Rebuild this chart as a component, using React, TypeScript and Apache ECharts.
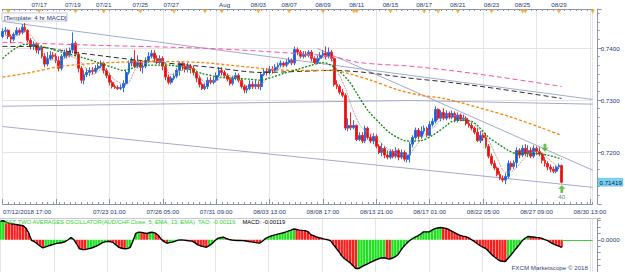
import React, { useEffect, useRef } from 'react';
import * as echarts from 'echarts';

// ---- 4h AUD/CHF candles (index = bar number from 07/12/2018 17:00) ----
const opens = [
  0.7422,0.7432,0.7434,0.7422,0.7417,0.7426,0.7434,0.7430,0.7440,0.7434,
  0.7415,0.7403,0.7407,0.7396,0.7401,0.7384,0.7369,0.7380,0.7386,0.7384,
  0.7376,0.7361,0.7384,0.7392,0.7386,0.7396,0.7409,0.7388,0.7361,0.7338,
  0.7349,0.7353,0.7357,0.7355,0.7361,0.7365,0.7371,0.7357,0.7347,0.7334,
  0.7326,0.7324,0.7322,0.7324,0.7332,0.7353,0.7371,0.7376,0.7365,0.7372,
  0.7363,0.7365,0.7376,0.7384,0.7390,0.7380,0.7372,0.7380,0.7365,0.7344,
  0.7334,0.7342,0.7346,0.7357,0.7371,0.7365,0.7359,0.7365,0.7361,0.7353,
  0.7342,0.7330,0.7322,0.7326,0.7338,0.7334,0.7338,0.7347,0.7357,0.7353,
  0.7347,0.7340,0.7332,0.7342,0.7347,0.7338,0.7326,0.7319,0.7322,0.7330,
  0.7326,0.7330,0.7326,0.7349,0.7355,0.7353,0.7359,0.7357,0.7363,0.7367,
  0.7371,0.7367,0.7372,0.7376,0.7371,0.7397,0.7392,0.7384,0.7388,0.7386,
  0.7392,0.7380,0.7372,0.7380,0.7386,0.7390,0.7384,0.7392,0.7380,0.7330,
  0.7326,0.7315,0.7309,0.7246,0.7251,0.7247,0.7251,0.7224,0.7232,0.7221,
  0.7246,0.7228,0.7221,0.7230,0.7211,0.7199,0.7207,0.7194,0.7190,0.7201,
  0.7192,0.7203,0.7190,0.7199,0.7186,0.7194,0.7215,0.7228,0.7242,0.7230,
  0.7240,0.7246,0.7232,0.7253,0.7259,0.7282,0.7265,0.7276,0.7265,0.7274,
  0.7267,0.7274,0.7261,0.7271,0.7263,0.7265,0.7255,0.7251,0.7246,0.7238,
  0.7222,0.7232,0.7228,0.7211,0.7192,0.7178,0.7169,0.7157,0.7149,0.7146,
  0.7153,0.7178,0.7172,0.7180,0.7203,0.7194,0.7207,0.7197,0.7203,0.7192,
  0.7207,0.7201,0.7196,0.7184,0.7178,0.7171,0.7167,0.7163,0.7171,0.7174,
];
const closes = [
  0.7432,0.7434,0.7422,0.7417,0.7426,0.7434,0.7430,0.7440,0.7434,0.7415,
  0.7403,0.7407,0.7396,0.7401,0.7384,0.7369,0.7380,0.7386,0.7384,0.7376,
  0.7361,0.7384,0.7392,0.7386,0.7396,0.7409,0.7388,0.7361,0.7338,0.7349,
  0.7353,0.7357,0.7355,0.7361,0.7365,0.7371,0.7357,0.7347,0.7334,0.7326,
  0.7324,0.7322,0.7324,0.7332,0.7353,0.7371,0.7376,0.7365,0.7372,0.7363,
  0.7365,0.7376,0.7384,0.7390,0.7380,0.7372,0.7380,0.7365,0.7344,0.7334,
  0.7342,0.7346,0.7357,0.7371,0.7365,0.7359,0.7365,0.7361,0.7353,0.7342,
  0.7330,0.7322,0.7326,0.7338,0.7334,0.7338,0.7347,0.7357,0.7353,0.7347,
  0.7340,0.7332,0.7342,0.7347,0.7338,0.7326,0.7319,0.7322,0.7330,0.7326,
  0.7330,0.7326,0.7349,0.7355,0.7353,0.7359,0.7357,0.7363,0.7367,0.7371,
  0.7367,0.7372,0.7376,0.7371,0.7397,0.7392,0.7384,0.7388,0.7386,0.7392,
  0.7380,0.7372,0.7380,0.7386,0.7390,0.7384,0.7392,0.7380,0.7330,0.7326,
  0.7315,0.7309,0.7246,0.7251,0.7247,0.7251,0.7224,0.7232,0.7221,0.7246,
  0.7228,0.7221,0.7230,0.7211,0.7199,0.7207,0.7194,0.7190,0.7201,0.7192,
  0.7203,0.7190,0.7199,0.7186,0.7194,0.7215,0.7228,0.7242,0.7230,0.7240,
  0.7246,0.7232,0.7253,0.7259,0.7282,0.7265,0.7276,0.7265,0.7274,0.7267,
  0.7274,0.7261,0.7271,0.7263,0.7265,0.7255,0.7251,0.7246,0.7238,0.7222,
  0.7232,0.7228,0.7211,0.7192,0.7178,0.7169,0.7157,0.7149,0.7146,0.7153,
  0.7178,0.7172,0.7180,0.7203,0.7194,0.7207,0.7197,0.7203,0.7192,0.7207,
  0.7201,0.7196,0.7184,0.7178,0.7171,0.7167,0.7163,0.7171,0.7174,0.71419,
];
const highs = [
  0.7438,0.7440,0.7436,0.7426,0.7430,0.7440,0.7438,0.7446,0.7448,0.7436,
  0.7419,0.7413,0.7411,0.7407,0.7405,0.7390,0.7392,0.7394,0.7392,0.7390,
  0.7384,0.7388,0.7397,0.7399,0.7401,0.7430,0.7413,0.7392,0.7365,0.7357,
  0.7361,0.7363,0.7363,0.7367,0.7371,0.7376,0.7374,0.7361,0.7351,0.7338,
  0.7330,0.7328,0.7330,0.7338,0.7357,0.7376,0.7382,0.7396,0.7386,0.7376,
  0.7372,0.7382,0.7392,0.7396,0.7396,0.7386,0.7386,0.7384,0.7369,0.7349,
  0.7346,0.7351,0.7361,0.7374,0.7374,0.7371,0.7371,0.7369,0.7365,0.7357,
  0.7346,0.7334,0.7332,0.7344,0.7344,0.7344,0.7353,0.7363,0.7363,0.7357,
  0.7351,0.7344,0.7347,0.7353,0.7351,0.7342,0.7330,0.7328,0.7338,0.7336,
  0.7338,0.7336,0.7353,0.7361,0.7361,0.7365,0.7365,0.7369,0.7372,0.7376,
  0.7374,0.7378,0.7382,0.7380,0.7403,0.7401,0.7396,0.7394,0.7394,0.7396,
  0.7396,0.7384,0.7386,0.7392,0.7396,0.7403,0.7401,0.7396,0.7382,0.7338,
  0.7330,0.7321,0.7313,0.7265,0.7276,0.7261,0.7253,0.7238,0.7238,0.7251,
  0.7249,0.7234,0.7236,0.7234,0.7215,0.7217,0.7211,0.7203,0.7205,0.7205,
  0.7209,0.7207,0.7205,0.7203,0.7199,0.7219,0.7232,0.7247,0.7246,0.7249,
  0.7251,0.7249,0.7259,0.7265,0.7288,0.7284,0.7280,0.7284,0.7280,0.7278,
  0.7280,0.7278,0.7276,0.7274,0.7272,0.7269,0.7261,0.7257,0.7249,0.7246,
  0.7240,0.7236,0.7236,0.7215,0.7197,0.7184,0.7172,0.7163,0.7155,0.7159,
  0.7184,0.7182,0.7184,0.7209,0.7207,0.7213,0.7215,0.7213,0.7209,0.7213,
  0.7211,0.7209,0.7199,0.7190,0.7182,0.7176,0.7172,0.7174,0.7178,0.7176,
];
const lows = [
  0.7419,0.7426,0.7417,0.7409,0.7413,0.7424,0.7424,0.7426,0.7430,0.7411,
  0.7397,0.7396,0.7390,0.7388,0.7380,0.7363,0.7365,0.7376,0.7378,0.7371,
  0.7355,0.7357,0.7380,0.7380,0.7382,0.7390,0.7384,0.7353,0.7332,0.7330,
  0.7344,0.7346,0.7349,0.7351,0.7357,0.7361,0.7351,0.7342,0.7328,0.7322,
  0.7321,0.7319,0.7319,0.7315,0.7328,0.7349,0.7365,0.7361,0.7361,0.7355,
  0.7351,0.7361,0.7371,0.7380,0.7374,0.7369,0.7369,0.7357,0.7338,0.7330,
  0.7330,0.7338,0.7342,0.7347,0.7357,0.7353,0.7353,0.7351,0.7347,0.7334,
  0.7324,0.7319,0.7319,0.7321,0.7330,0.7330,0.7334,0.7344,0.7347,0.7342,
  0.7336,0.7328,0.7328,0.7338,0.7334,0.7322,0.7313,0.7313,0.7319,0.7321,
  0.7321,0.7321,0.7319,0.7346,0.7347,0.7349,0.7351,0.7353,0.7359,0.7363,
  0.7363,0.7363,0.7369,0.7367,0.7367,0.7386,0.7380,0.7380,0.7382,0.7382,
  0.7374,0.7369,0.7369,0.7376,0.7382,0.7378,0.7380,0.7374,0.7326,0.7321,
  0.7311,0.7305,0.7242,0.7240,0.7242,0.7244,0.7221,0.7221,0.7217,0.7217,
  0.7224,0.7217,0.7215,0.7207,0.7196,0.7192,0.7188,0.7186,0.7186,0.7188,
  0.7188,0.7184,0.7186,0.7182,0.7180,0.7180,0.7209,0.7224,0.7224,0.7226,
  0.7234,0.7228,0.7230,0.7249,0.7255,0.7261,0.7259,0.7261,0.7261,0.7263,
  0.7263,0.7257,0.7257,0.7259,0.7259,0.7251,0.7247,0.7242,0.7234,0.7219,
  0.7217,0.7221,0.7207,0.7188,0.7174,0.7165,0.7153,0.7146,0.7142,0.7138,
  0.7149,0.7165,0.7167,0.7169,0.7188,0.7190,0.7192,0.7190,0.7188,0.7188,
  0.7194,0.7192,0.7178,0.7172,0.7165,0.7161,0.7159,0.7159,0.7167,0.7140,
];

// ---- Two Averages Oscillator (MACD histogram) per bar ----
const macdValues = [
  0.00287,0.00295,0.00275,0.00258,0.00248,0.00240,0.00234,0.00226,0.00217,0.00183,
  0.00103,-0.00008,-0.00030,-0.00062,-0.00096,-0.00126,-0.00111,-0.00096,-0.00081,-0.00067,
  -0.00056,-0.00051,-0.00043,-0.00027,0.00000,0.00035,0.00003,-0.00064,-0.00139,-0.00150,
  -0.00153,-0.00142,-0.00131,-0.00116,-0.00099,-0.00075,-0.00049,-0.00032,-0.00024,-0.00030,
  -0.00045,-0.00080,-0.00118,-0.00132,-0.00140,-0.00138,-0.00118,-0.00016,0.00100,0.00118,
  0.00115,0.00105,0.00097,0.00113,0.00116,0.00102,0.00065,0.00010,-0.00029,-0.00053,
  -0.00045,-0.00037,-0.00022,-0.00005,-0.00003,-0.00006,-0.00011,-0.00018,-0.00021,-0.00048,
  -0.00078,-0.00096,-0.00107,-0.00116,-0.00091,-0.00059,-0.00016,0.00021,0.00032,0.00040,
  0.00022,0.00005,-0.00003,-0.00008,-0.00011,-0.00011,-0.00013,-0.00019,-0.00027,-0.00033,
  -0.00041,-0.00048,-0.00051,-0.00019,0.00021,0.00041,0.00059,0.00072,0.00084,0.00096,
  0.00105,0.00119,0.00134,0.00150,0.00167,0.00159,0.00150,0.00145,0.00142,0.00127,
  0.00080,0.00064,0.00046,0.00032,0.00021,0.00010,0.00000,-0.00014,-0.00072,-0.00127,
  -0.00183,-0.00250,-0.00295,-0.00326,-0.00358,-0.00403,-0.00446,-0.00446,-0.00422,-0.00398,
  -0.00377,-0.00355,-0.00334,-0.00314,-0.00296,-0.00283,-0.00279,-0.00291,-0.00301,-0.00283,
  -0.00263,-0.00228,-0.00159,-0.00103,-0.00056,-0.00016,0.00016,0.00041,0.00060,0.00089,
  0.00123,0.00123,0.00123,0.00148,0.00172,0.00183,0.00191,0.00185,0.00177,0.00159,
  0.00135,0.00110,0.00089,0.00068,0.00057,0.00048,0.00029,0.00003,-0.00024,-0.00057,
  -0.00089,-0.00113,-0.00132,-0.00175,-0.00223,-0.00259,-0.00294,-0.00325,-0.00334,-0.00337,
  -0.00287,-0.00237,-0.00180,-0.00127,-0.00073,-0.00014,0.00024,0.00051,0.00046,0.00043,
  0.00037,0.00033,0.00022,0.00003,-0.00014,-0.00040,-0.00064,-0.00083,-0.00099,-0.00119,
];

// ---- moving averages, read at sample bars [barIndex, price] ----
const pinkMA = [[0,0.7411],[35,0.7405],[74,0.7399],[103,0.7390],[117,0.7384],[127,0.7372],[145,0.7365],[159,0.7357],[177,0.7344],[199,0.7326]];
const blackMA = [[0,0.7403],[10,0.7403],[25,0.7392],[49,0.7376],[74,0.7363],[92,0.7353],[106,0.7355],[117,0.7357],[129,0.7353],[145,0.7342],[159,0.7334],[177,0.7321],[199,0.7303]];
const orangeMA = [[0,0.7344],[10,0.7353],[21,0.7365],[35,0.7371],[53,0.7374],[71,0.7372],[88,0.7363],[103,0.7357],[117,0.7357],[123,0.7351],[131,0.7338],[141,0.7319],[149,0.7309],[157,0.7303],[169,0.7286],[181,0.7267],[192,0.7246],[199,0.7232]];
const greenMA = [[0,0.7380],[8,0.7407],[14,0.7403],[21,0.7392],[28,0.7382],[34,0.7372],[39,0.7363],[43,0.7357],[46,0.7361],[49,0.7367],[53,0.7367],[59,0.7367],[65,0.7361],[71,0.7351],[77,0.7344],[82,0.7342],[88,0.7340],[92,0.7338],[96,0.7344],[100,0.7351],[105,0.7359],[110,0.7367],[114,0.7372],[118,0.7363],[123,0.7338],[126,0.7313],[130,0.7280],[135,0.7251],[138,0.7236],[143,0.7222],[145,0.7221],[149,0.7222],[153,0.7232],[158,0.7251],[160,0.7259],[164,0.7261],[167,0.7259],[169,0.7251],[173,0.7228],[176,0.7217],[180,0.7203],[183,0.7197],[187,0.7197],[190,0.7197],[194,0.7194],[198,0.7188],[199,0.7186]];
const rosyMA = [[0,0.7426],[4,0.7422],[8,0.7432],[12,0.7411],[16,0.7380],[20,0.7376],[24,0.7384],[28,0.7372],[32,0.7349],[36,0.7361],[40,0.7338],[44,0.7330],[48,0.7365],[52,0.7372],[56,0.7380],[60,0.7349],[64,0.7357],[68,0.7361],[72,0.7334],[76,0.7338],[80,0.7347],[84,0.7340],[88,0.7324],[92,0.7330],[96,0.7351],[100,0.7365],[104,0.7374],[108,0.7388],[112,0.7380],[116,0.7384],[119,0.7357],[122,0.7322],[125,0.7276],[128,0.7246],[132,0.7232],[136,0.7211],[140,0.7197],[144,0.7194],[147,0.7211],[150,0.7232],[154,0.7251],[158,0.7271],[162,0.7269],[166,0.7261],[170,0.7242],[173,0.7222],[176,0.7188],[179,0.7161],[182,0.7165],[185,0.7184],[188,0.7199],[191,0.7201],[194,0.7188],[197,0.7174],[199,0.7165]];

// ---- drawn trend lines [barIndex, price] ----
const upperChannel = [[0,0.7451],[210,0.7301]];
const levelLine = [[0,0.7288],[145,0.7299],[210,0.7292]];
const lowerChannel = [[0,0.7249],[210,0.7132]];
const downTrend = [[112,0.7399],[210,0.7165]];

// ---- signals ----
const signalIndex = [193, 199];
const signalPrice = [0.7208, 0.7129];
const signalDir = ['down', 'up'];
const signalText = ['', '40'];

// ---- axes ----
const SLOTS = 211;
const bottomTickIndex = [0, 38, 57, 76, 95, 114, 133, 152, 171, 190, 209];
const bottomTickText = ['07/12/2018 17:00','07/23 01:00','07/26 05:00','07/31 09:00','08/03 13:00','08/08 17:00','08/13 21:00','08/17 01:00','08/22 05:00','08/27 09:00','08/30 13:00'];
const topTickIndex = [13, 25, 36, 49, 60, 79, 91, 102, 114, 126, 138, 150, 162, 174, 185, 198];
const topTickText = ['07/17','07/19','07/21','07/25','07/27','Aug','08/03','08/07','08/09','08/11','08/15','08/17','08/21','08/23','08/25','08/29'];
const eventIndex = [2, 13, 26, 36, 49, 61, 72, 78, 91, 102, 114, 125, 126, 138, 150, 155, 162, 174, 185, 186, 198, 210];
const priceTicks = [0.72, 0.73, 0.74];
const lastPrice = 0.71419;
const macdTitle = 'EST TWO AVERAGES OSCILLATOR(AUD/CHF.Close, 5, EMA, 13, EMA)  TAO: -0.00119';
const macdLast = 'MACD: -0.00119';

const FONT = 'Liberation Sans, Arial, sans-serif';
const TXT = '#26387a';
const AXC = '#8e96aa';
const GRIDC = '#e4e4e4';

const cats = Array.from({ length: SLOTS }, (_, i) => String(i));
const bottomMap: Record<number, string> = {};
bottomTickIndex.forEach((k, j) => (bottomMap[k] = bottomTickText[j]));
const topMap: Record<number, string> = {};
topTickIndex.forEach((k, j) => (topMap[k] = topTickText[j]));

const downArrow = 'path://M3,0 L7,0 L7,5 L10,5 L5,10 L0,5 L3,5 Z';
const upArrow = 'path://M5,0 L10,5 L7,5 L7,10 L3,10 L3,5 L0,5 Z';

function buildOption(): any {
  const candleData = opens.map((o, i) => [o, closes[i], lows[i], highs[i]]);
  const macdBars = macdValues.map((v, i) => ({
    value: v,
    itemStyle: { color: i === 0 || v >= macdValues[i - 1] ? '#1fe01f' : '#ff1c1c' },
  }));
  const gridSplit = (i: number) => i % 19 === 0 || i === SLOTS - 1;
  const trend = (data: number[][]) => ({
    type: 'line', xAxisIndex: 0, yAxisIndex: 0, data, symbol: 'none', silent: true,
    lineStyle: { color: '#a3aacd', width: 1 }, z: 2,
  });
  const ma = (data: number[][], color: string, type: any, width: number) => ({
    type: 'line', xAxisIndex: 0, yAxisIndex: 0, data, symbol: 'none', silent: true, smooth: 0.3,
    lineStyle: { color, width, type }, z: 4,
  });
  return {
    animation: false,
    backgroundColor: '#ffffff',
    textStyle: { fontFamily: FONT },
    grid: [
      { left: 0.5, top: 9, width: 592.2, height: 195 },
      { left: 0.5, top: 218.5, width: 592.2, height: 54 },
    ],
    xAxis: [
      {
        type: 'category', gridIndex: 0, data: cats, boundaryGap: false, position: 'bottom',
        axisLine: { lineStyle: { color: AXC } },
        axisTick: { inside: true, length: 2, interval: (i: number) => i % 2 === 0, lineStyle: { color: AXC } },
        axisLabel: {
          interval: (i: number) => bottomMap[i] !== undefined,
          formatter: (_v: string, i: number) => (i === 0 ? '{first|' + bottomMap[0] + '}' : bottomMap[i] ?? ''),
          rich: { first: { padding: [0, 0, 0, 49], fontSize: 6.2, color: TXT, fontFamily: FONT } },
          fontSize: 6.2, color: TXT, margin: 4, fontFamily: FONT,
        },
        splitLine: { show: true, interval: gridSplit, lineStyle: { color: GRIDC } },
      },
      {
        type: 'category', gridIndex: 0, data: cats, boundaryGap: false, position: 'bottom',
        axisLine: { show: false }, axisLabel: { show: false }, splitLine: { show: false },
        axisTick: { inside: true, length: 5, interval: (i: number) => i % 19 === 0, lineStyle: { color: AXC } },
      },
      {
        type: 'category', gridIndex: 0, data: cats, boundaryGap: false, position: 'top',
        axisLine: { lineStyle: { color: AXC } },
        axisTick: { inside: true, length: 2, interval: (i: number) => i % 2 === 0, lineStyle: { color: AXC } },
        axisLabel: {
          interval: (i: number) => topMap[i] !== undefined,
          formatter: (_v: string, i: number) => topMap[i] ?? '',
          fontSize: 6.2, color: TXT, margin: 2, fontFamily: FONT,
        },
        splitLine: { show: false },
      },
      {
        type: 'category', gridIndex: 1, data: cats, boundaryGap: false,
        axisLine: { show: false }, axisTick: { show: false }, axisLabel: { show: false },
        splitLine: { show: true, interval: gridSplit, lineStyle: { color: GRIDC } },
      },
    ],
    yAxis: [
      {
        type: 'value', gridIndex: 0, position: 'right', offset: 5, min: 0.71, max: 0.7475, interval: 0.01,
        axisLine: { show: true, lineStyle: { color: AXC } },
        axisTick: { show: true, length: 4, lineStyle: { color: AXC } },
        minorTick: { show: true, splitNumber: 6, length: 2, lineStyle: { color: AXC } },
        axisLabel: {
          formatter: (v: number) => (priceTicks.some((t) => Math.abs(t - v) < 1e-7) ? v.toFixed(4) : ''),
          fontSize: 6.2, color: TXT, margin: 3, fontFamily: FONT,
        },
        splitLine: { show: true, lineStyle: { color: GRIDC } },
      },
      {
        type: 'value', gridIndex: 1, position: 'right', offset: 5, min: -0.005, max: 0.0033, interval: 0.001,
        axisLine: { show: true, lineStyle: { color: AXC } },
        axisTick: { show: true, length: 3, lineStyle: { color: AXC } },
        axisLabel: {
          formatter: (v: number) => (Math.abs(v) < 1e-9 ? '0.0000' : ''),
          fontSize: 6.2, color: TXT, margin: 3, fontFamily: FONT,
        },
        splitLine: { show: false },
      },
    ],
    series: [
      trend(upperChannel),
      trend(levelLine),
      trend(lowerChannel),
      trend(downTrend),
      {
        type: 'candlestick', xAxisIndex: 0, yAxisIndex: 0, data: candleData, barWidth: 2.3, z: 3,
        itemStyle: { color: '#1659dc', color0: '#ee0b0b', borderColor: '#2f6fe4', borderColor0: '#ec2a2a', borderWidth: 1 },
      },
      ma(pinkMA, '#ff4fa3', [5, 3], 1),
      ma(blackMA, '#2e2e2e', [5, 3], 1),
      ma(orangeMA, '#ff8100', [3, 2], 1.3),
      ma(greenMA, '#0b8a0b', [2, 1.5], 1.3),
      ma(rosyMA, '#b98383', [2, 1], 0.8),
      {
        type: 'scatter', xAxisIndex: 2, yAxisIndex: 0, clip: false, silent: true, z: 6,
        data: eventIndex.map((k) => [k, 0.74702]),
        symbol: 'triangle', symbolRotate: 180, symbolSize: [5, 4],
        itemStyle: { color: '#f2a11f' },
      },
      {
        type: 'scatter', xAxisIndex: 0, yAxisIndex: 0, clip: false, silent: true, z: 7,
        data: signalIndex.map((k, j) => ({
          value: [k, signalPrice[j]],
          symbol: signalDir[j] === 'down' ? downArrow : upArrow,
          label: {
            show: signalText[j] !== '', formatter: signalText[j], position: 'bottom', distance: 1,
            fontSize: 6.2, color: '#555', fontFamily: FONT,
          },
        })),
        symbolSize: [7, 8],
        itemStyle: { color: '#4caf24' },
      },
      {
        type: 'bar', xAxisIndex: 3, yAxisIndex: 1, data: macdBars, barWidth: 2.4, z: 2, silent: true,
      },
      {
        type: 'line', xAxisIndex: 3, yAxisIndex: 1, data: macdValues, symbol: 'none', silent: true, z: 3,
        lineStyle: { color: '#000', width: 1.4 },
        markLine: {
          symbol: 'none', silent: true, label: { show: false },
          lineStyle: { color: '#3ccf3c', width: 1, type: 'solid' },
          data: [[{ coord: [199, 0] }, { coord: [210, 0] }]],
        },
      },
    ],
    graphic: [
      { id: 'tplBox', type: 'rect', shape: { x: 2, y: 13, width: 65, height: 8 }, style: { fill: '#fff', stroke: '#c6cad6', lineWidth: 1 }, z: 10 },
      { id: 'tplTxt', type: 'text', x: 4, y: 17.2, style: { text: '[Template: 4 hr MACD]', fill: TXT, font: '6.2px ' + FONT, verticalAlign: 'middle' }, z: 11 },
      { id: 'sep', type: 'line', shape: { x1: 0, y1: 218.5, x2: 598, y2: 218.5 }, style: { stroke: '#c4c8d4', lineWidth: 1 }, z: 1 },
      {
        id: 'macdTitle', type: 'text', x: 5, y: 222, z: 11,
        style: {
          text: '{g|' + macdTitle + '}  {k|' + macdLast + '}', verticalAlign: 'middle',
          rich: { g: { fill: '#2fcf2f', font: '5.8px ' + FONT }, k: { fill: '#000', font: '5.8px ' + FONT } },
        },
      },
      { id: 'fxcm', type: 'text', x: 588, y: 267.5, z: 11, style: { text: 'FXCM Marketscope © 2018', fill: '#3a4778', font: '6.2px ' + FONT, align: 'right', verticalAlign: 'middle' } },
    ],
  };
}

export default function App() {
  const ref = useRef<HTMLDivElement>(null);
  useEffect(() => {
    const chart = echarts.init(ref.current!, undefined, { renderer: 'svg' });
    chart.setOption(buildOption());
    const py = chart.convertToPixel({ yAxisIndex: 0 }, lastPrice) as number;
    chart.setOption({
      graphic: [
        { id: 'lpBox', type: 'rect', shape: { x: 598, y: py - 4, width: 25, height: 8 }, style: { fill: '#79d2f5', stroke: '#5bb8e0', lineWidth: 0.5 }, z: 20 },
        { id: 'lpTxt', type: 'text', x: 599.5, y: py, style: { text: String(lastPrice), fill: '#12204c', font: '6.2px ' + FONT, verticalAlign: 'middle' }, z: 21 },
      ],
    });
    return () => chart.dispose();
  }, []);
  return <div ref={ref} style={{ position: 'absolute', left: 0, top: 0, width: 625, height: 272, background: '#fff' }} />;
}
